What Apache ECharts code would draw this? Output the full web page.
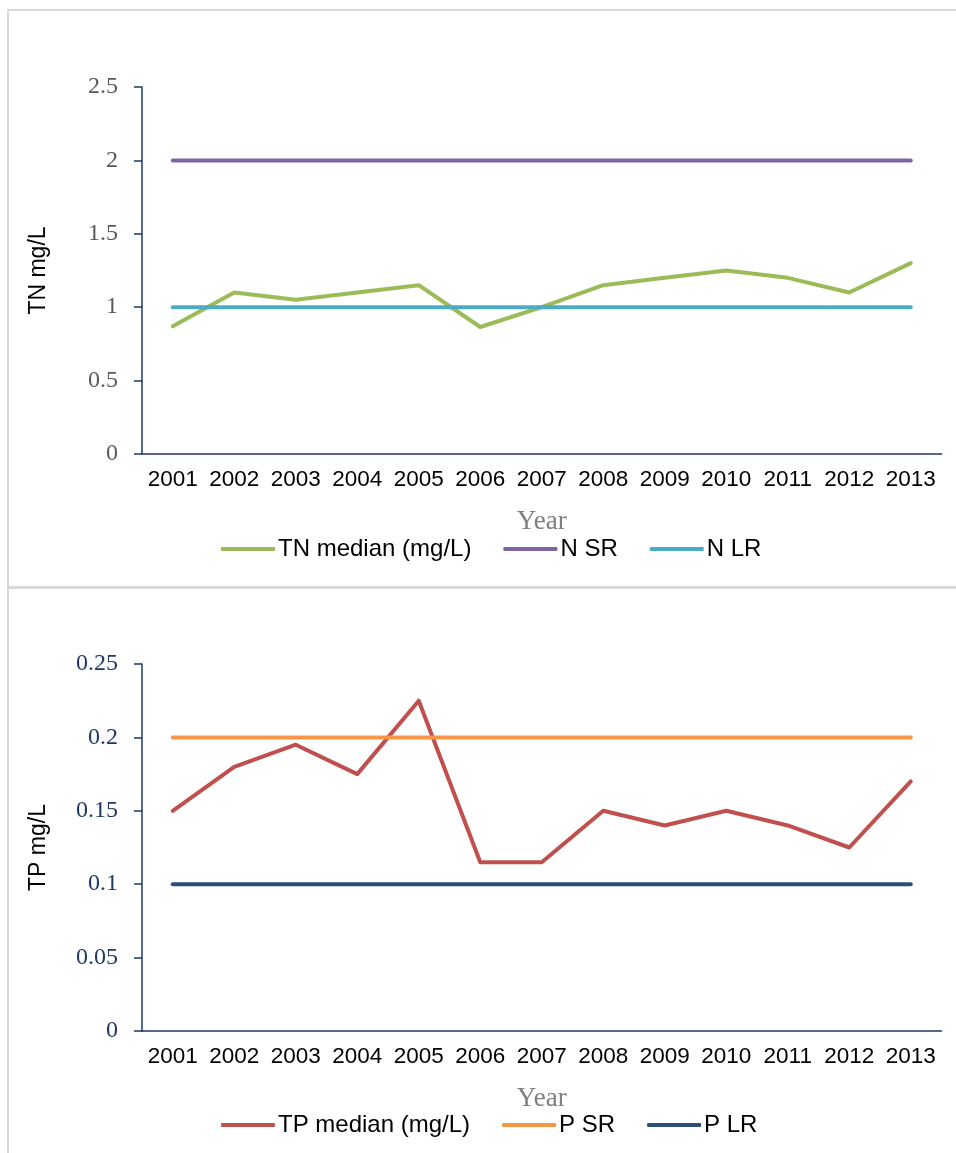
<!DOCTYPE html>
<html>
<head>
<meta charset="utf-8">
<script src="https://cdn.jsdelivr.net/npm/echarts@6/dist/echarts.min.js"></script>
<style>
  html, body { margin: 0; padding: 0; background: #ffffff; }
  #chart { width: 956px; height: 1153px; }
</style>
</head>
<body>
<div id="chart"></div>
<script>
// Monitoring years shared by both panels
const years = ['2001','2002','2003','2004','2005','2006','2007','2008','2009','2010','2011','2012','2013'];

// Total nitrogen (mg/L) and its reference levels
const tnMedian = [0.87, 1.10, 1.05, 1.10, 1.15, 0.865, 1.00, 1.15, 1.20, 1.25, 1.20, 1.10, 1.30];
const nSR = [2, 2, 2, 2, 2, 2, 2, 2, 2, 2, 2, 2, 2];
const nLR = [1, 1, 1, 1, 1, 1, 1, 1, 1, 1, 1, 1, 1];

// Total phosphorus (mg/L) and its reference levels
const tpMedian = [0.15, 0.18, 0.195, 0.175, 0.225, 0.115, 0.115, 0.15, 0.14, 0.15, 0.14, 0.125, 0.17];
const pSR = [0.2, 0.2, 0.2, 0.2, 0.2, 0.2, 0.2, 0.2, 0.2, 0.2, 0.2, 0.2, 0.2];
const pLR = [0.1, 0.1, 0.1, 0.1, 0.1, 0.1, 0.1, 0.1, 0.1, 0.1, 0.1, 0.1, 0.1];

// Axis ranges and tick steps
const tnAxis = { min: 0, max: 2.5, interval: 0.5 };
const tpAxis = { min: 0, max: 0.25, interval: 0.05 };

const AXIS_NAVY = '#1f3864';
const SANS = 'Liberation Sans, Arial, sans-serif';
const SERIF = 'Liberation Serif, Cambria, serif';

function xAxisFor(gridIndex) {
  return {
    type: 'category',
    gridIndex: gridIndex,
    data: years,
    boundaryGap: true,
    name: 'Year',
    nameLocation: 'middle',
    nameGap: 54,
    nameTextStyle: { fontFamily: SERIF, fontSize: 27, color: '#7f7f7f' },
    axisLine: { show: true, lineStyle: { color: AXIS_NAVY, width: 1.5 } },
    axisTick: { show: false },
    axisLabel: { fontFamily: SANS, fontSize: 22.5, color: '#000000', margin: 14, interval: 0 },
    splitLine: { show: false }
  };
}

function yAxisFor(gridIndex, range, name, labelColor) {
  return {
    type: 'value',
    gridIndex: gridIndex,
    min: range.min,
    max: range.max,
    interval: range.interval,
    name: name,
    nameLocation: 'middle',
    nameGap: 92,
    nameRotate: 90,
    nameTextStyle: { fontFamily: SANS, fontSize: 23, color: '#000000' },
    axisLine: { show: true, lineStyle: { color: AXIS_NAVY, width: 1.5 } },
    axisTick: { show: true, inside: false, length: 8, lineStyle: { color: AXIS_NAVY, width: 1.5 } },
    axisLabel: { fontFamily: SERIF, fontSize: 24, color: labelColor, margin: 24 },
    splitLine: { show: false }
  };
}

function lineSeries(name, data, color, axisIndex) {
  return {
    type: 'line',
    name: name,
    data: data,
    xAxisIndex: axisIndex,
    yAxisIndex: axisIndex,
    symbol: 'none',
    showSymbol: false,
    lineStyle: { color: color, width: 4, cap: 'round', join: 'round' },
    itemStyle: { color: color },
    emphasis: { disabled: true },
    animation: false
  };
}

const legendText = { fontFamily: SANS, fontSize: 24, color: '#000000', padding: [0, 0, 0, -2] };

function legendFor(names, top) {
  return {
    data: names,
    left: 221, top: top,
    padding: 0,
    icon: 'roundRect',
    itemWidth: 54, itemHeight: 4, itemGap: 32,
    textStyle: legendText,
    selectedMode: false
  };
}

const chart = echarts.init(document.getElementById('chart'), null, { renderer: 'canvas' });

chart.setOption({
  backgroundColor: '#ffffff',
  animation: false,
  graphic: [
    { type: 'rect', shape: { x: 8, y: 10, width: 980, height: 578 }, style: { fill: 'none', stroke: '#d9d9d9', lineWidth: 2 }, silent: true },
    { type: 'rect', shape: { x: 8, y: 587, width: 980, height: 600 }, style: { fill: 'none', stroke: '#d9d9d9', lineWidth: 2 }, silent: true }
  ],
  grid: [
    { left: 142, top: 87, width: 799.5, height: 367 },
    { left: 142, top: 664, width: 799.5, height: 367 }
  ],
  xAxis: [xAxisFor(0), xAxisFor(1)],
  yAxis: [
    yAxisFor(0, tnAxis, 'TN mg/L', '#595959'),
    yAxisFor(1, tpAxis, 'TP mg/L', AXIS_NAVY)
  ],
  legend: [
    legendFor(['TN median (mg/L)', 'N SR', 'N LR'], 537),
    legendFor(['TP median (mg/L)', 'P SR', 'P LR'], 1113)
  ],
  series: [
    lineSeries('TN median (mg/L)', tnMedian, '#9bbb59', 0),
    lineSeries('N SR', nSR, '#8064a2', 0),
    lineSeries('N LR', nLR, '#4bacc6', 0),
    lineSeries('TP median (mg/L)', tpMedian, '#c0504d', 1),
    lineSeries('P SR', pSR, '#f79646', 1),
    lineSeries('P LR', pLR, '#2c4d75', 1)
  ]
});
</script>
</body>
</html>
